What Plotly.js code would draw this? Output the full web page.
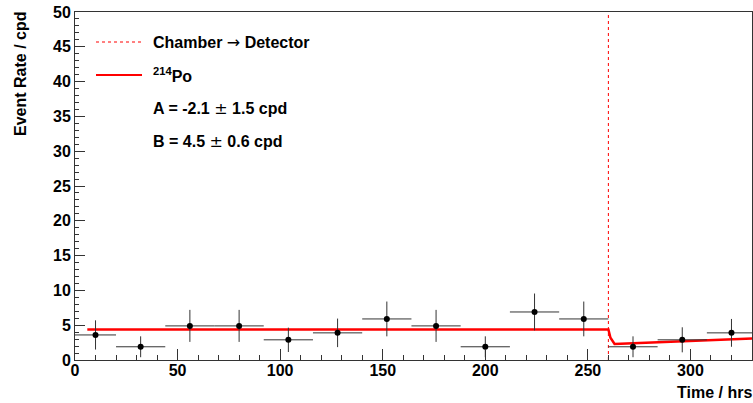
<!DOCTYPE html>
<html>
<head>
<meta charset="utf-8">
<script src="https://cdn.plot.ly/plotly-3.0.1.min.js"></script>
<style>html,body{margin:0;padding:0;background:#fff;}#chart{width:753px;height:403px;}</style>
</head>
<body>
<div id="chart"></div>
<script>
// Data
var binCenters = [10, 32, 56, 80, 104, 128, 152, 176, 200, 224, 248, 272, 296, 320];
var binHalfWidths = [10, 12, 12, 12, 12, 12, 12, 12, 12, 12, 12, 12, 12, 12];
var rates = [3.6, 1.9, 4.9, 4.9, 2.9, 3.9, 5.9, 4.9, 1.9, 6.9, 5.9, 1.9, 2.9, 3.9];
var rateErrors = [2.1, 1.5, 2.3, 2.3, 1.75, 2.05, 2.5, 2.3, 1.5, 2.65, 2.5, 1.5, 1.8, 2.0];
var fitTimes = [6, 260, 261, 263, 266, 270, 280, 290, 300, 310, 320, 330];
var fitRates = [4.4, 4.4, 3.2, 2.3, 2.35, 2.4, 2.55, 2.65, 2.8, 2.9, 3.0, 3.1];
var changeTime = 260;
var yRange = [0, 50];
var xRange = [0, 330];
var ARROW = "<span style=\"font-family:'DejaVu Sans';font-weight:normal\">\u2192</span>";
var PM = "<span style=\"font-family:'DejaVu Sans';font-weight:normal\">\u00b1</span>";
var legendLabels = ["Chamber " + ARROW + " Detector", "<sup>214</sup>Po",
                    "A = -2.1 " + PM + " 1.5 cpd", "B = 4.5 " + PM + " 0.6 cpd"];
var xTitle = "Time / hrs";
var yTitle = "Event Rate / cpd";

var W = 753, H = 403;
var M = {l: 75, r: 1, t: 12, b: 43};
var pw = W - M.l - M.r, ph = H - M.t - M.b;
function px(x) { return (x - M.l) / pw; }
function py(y) { return 1 - (y - M.t) / ph; }

var font = {family: "Liberation Sans, Arial, sans-serif", size: 16, color: "#000", weight: "bold"};

var traces = [
  {
    x: [changeTime, changeTime], y: yRange, mode: "lines", type: "scatter",
    line: {color: "red", width: 1, dash: "dot"}, hoverinfo: "skip", showlegend: false
  },
  {
    x: fitTimes, y: fitRates, mode: "lines", type: "scatter",
    line: {color: "#ff0000", width: 2.5}, showlegend: false
  },
  {
    x: binCenters, y: rates, mode: "markers", type: "scatter",
    marker: {color: "#000", size: 6},
    error_x: {type: "data", array: binHalfWidths, color: "#333", thickness: 1, width: 0},
    error_y: {type: "data", array: rateErrors, color: "#333", thickness: 1, width: 0},
    showlegend: false
  }
];

var legY = [42, 75, 108, 141.5];
var annotations = legendLabels.map(function (t, i) {
  return {xref: "paper", yref: "paper", x: px(151), y: py(legY[i]), xanchor: "left", yanchor: "middle",
          text: t, showarrow: false, font: font};
});
annotations.push({xref: "paper", yref: "paper", x: px(754), y: py(392), xanchor: "right", yanchor: "middle",
  text: xTitle, showarrow: false, font: font});
annotations.push({xref: "paper", yref: "paper", x: px(21), y: py(10), xanchor: "center", yanchor: "top",
  text: yTitle, textangle: -90, showarrow: false, font: font});

var shapes = [
  {type: "line", xref: "paper", yref: "paper", x0: px(96), x1: px(142), y0: py(legY[0]), y1: py(legY[0]),
   line: {color: "red", width: 1, dash: "dot"}},
  {type: "line", xref: "paper", yref: "paper", x0: px(96), x1: px(142), y0: py(legY[1]), y1: py(legY[1]),
   line: {color: "red", width: 2}}
];

var axisCommon = {
  showgrid: false, zeroline: false, showline: true, mirror: true, linecolor: "#333", linewidth: 1,
  ticks: "inside", tickcolor: "#333", tickwidth: 1,
  tickfont: font
};

var layout = {
  width: W, height: H,
  margin: M,
  paper_bgcolor: "#fff", plot_bgcolor: "#fff",
  showlegend: false,
  xaxis: Object.assign({}, axisCommon, {
    range: xRange, dtick: 50, tick0: 0, ticklen: 11, ticklabelstandoff: -4,
    minor: {dtick: 10, ticklen: 5, ticks: "inside", tickcolor: "#333"}
  }),
  yaxis: Object.assign({}, axisCommon, {
    range: yRange, dtick: 5, tick0: 0, ticklen: 10,
    minor: {dtick: 1, ticklen: 4, ticks: "inside", tickcolor: "#333"}
  }),
  annotations: annotations,
  shapes: shapes
};

Plotly.newPlot("chart", traces, layout, {staticPlot: true, displayModeBar: false});
</script>
</body>
</html>
